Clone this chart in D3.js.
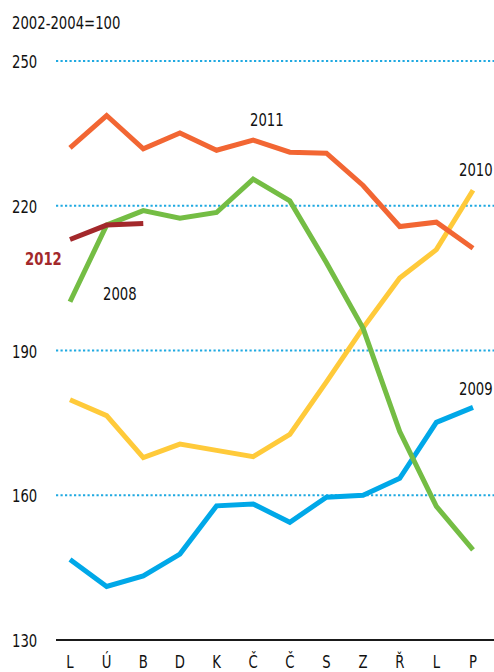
<!DOCTYPE html>
<html><head><meta charset="utf-8">
<script src="https://cdn.jsdelivr.net/npm/d3@7"></script>
<style>
html,body{margin:0;padding:0;background:#fff;}
text{font-family:"DejaVu Sans Condensed","DejaVu Sans",sans-serif;font-stretch:condensed;}
</style></head>
<body><svg id="c" width="494" height="672"></svg>
<script>
const months = ["L","Ú","B","D","K","Č","Č ","S","Z","Ř","L ","P"];
const monthLabels = ["L","Ú","B","D","K","Č","Č","S","Z","Ř","L","P"];
const yTicks = [130,160,190,220,250];
const s2008 = [200.1,216.0,219.0,217.4,218.6,225.5,221.0,208.2,194.6,173.2,157.7,148.7];
const s2009 = [146.7,141.1,143.3,147.8,157.8,158.2,154.4,159.6,160.0,163.5,175.1,178.2];
const s2010 = [179.8,176.5,167.8,170.6,169.3,168.0,172.6,183.5,194.7,205.0,210.9,223.2];
const s2011 = [232.0,238.7,231.8,235.1,231.5,233.6,231.1,230.9,224.2,215.7,216.6,211.2];
const s2012 = [213.0,216.0,216.3];
const series = [
  {name:"2009", values:s2009, color:"#00a8e8"},
  {name:"2010", values:s2010, color:"#ffca3a"},
  {name:"2008", values:s2008, color:"#74bd44"},
  {name:"2011", values:s2011, color:"#f26633"},
  {name:"2012", values:s2012, color:"#a3282b"}
];
const labels = [
  {text:"2011", x:250, y:126, color:"#111", bold:false},
  {text:"2010", x:459, y:176, color:"#111", bold:false},
  {text:"2009", x:459, y:395, color:"#111", bold:false},
  {text:"2008", x:103, y:300, color:"#111", bold:false},
  {text:"2012", x:25, y:265, color:"#a3282b", bold:true}
];
const FS = 17.5, SX = 0.84;
const svg = d3.select("#c");
const x = d3.scalePoint().domain(months).range([70,473]);
const y = d3.scaleLinear().domain([130,250]).range([640,61]);

function txt(g, tx, ty, s, opts={}) {
  return g.append("text")
    .attr("transform", `translate(${tx},${ty}) scale(${SX},1)`)
    .attr("font-size", FS)
    .attr("fill", opts.color || "#111")
    .attr("font-weight", opts.bold ? "bold" : "normal")
    .attr("text-anchor", opts.anchor || "start")
    .text(s);
}

// gridlines
svg.append("g").selectAll("line").data(yTicks.filter(d=>d>130)).join("line")
  .attr("x1",56).attr("x2",494).attr("y1",d=>y(d)).attr("y2",d=>y(d))
  .attr("stroke","#1fa9e1").attr("stroke-width",2.2).attr("stroke-dasharray","2.2,2.3");
// baseline
svg.append("line").attr("x1",56).attr("x2",494).attr("y1",y(130)).attr("y2",y(130))
  .attr("stroke","#1a1a1a").attr("stroke-width",2.2);
// y tick labels
const gy = svg.append("g");
yTicks.forEach(d => txt(gy, 12, y(d)+7, String(d)));
// unit
txt(svg, 12, 29, "2002-2004=100");
// x labels
const gx = svg.append("g");
months.forEach((d,i) => txt(gx, x(d), 668, monthLabels[i], {anchor:"middle"}));
// lines
const line = d3.line().x((d,i)=>x(months[i])).y(d=>y(d));
svg.append("g").selectAll("path").data(series).join("path")
  .attr("d",d=>line(d.values)).attr("fill","none").attr("stroke",d=>d.color)
  .attr("stroke-width",5).attr("stroke-linejoin","miter").attr("stroke-linecap","butt");
// series labels
const gl = svg.append("g");
labels.forEach(l => txt(gl, l.x, l.y, l.text, {color:l.color, bold:l.bold}));
</script></body></html>
